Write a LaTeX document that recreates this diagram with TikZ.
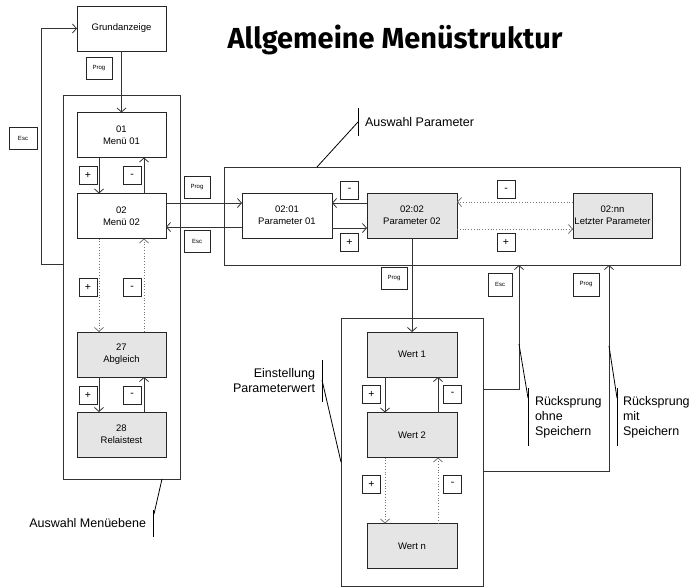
\documentclass[tikz,border=0pt]{standalone}
\usepackage{fontspec}
\setmainfont{Liberation Sans}
\newfontfamily\titlefont{Fira Sans}
\usetikzlibrary{arrows.meta}
\begin{document}
\begin{tikzpicture}[x=1pt,y=-1pt,
  every node/.style={inner sep=0pt, outer sep=0pt},
  frame/.style={draw=black!80, line width=0.8pt},
  menubox/.style={draw=black!85, line width=0.8pt, minimum width=89pt, minimum height=45pt, align=center, font=\fontsize{9.5}{12}\selectfont},
  graybox/.style={menubox, fill=black!10},
  keybox/.style={draw=black!85, line width=0.7pt, minimum width=26pt, minimum height=22pt, font=\fontsize{6}{7}\selectfont},
  pmbox/.style={draw=black!85, line width=0.7pt, minimum width=18pt, minimum height=18pt, font=\fontsize{10.5}{12}\selectfont},
  arr/.style={draw=black!80, line width=0.8pt, -{Straight Barb[length=4pt,width=9pt]}},
  darr/.style={arr, draw=black!55, dotted},
  note/.style={font=\fontsize{12.5}{15}\selectfont},
  marker/.style={draw=black, line width=0.8pt}
]
\useasboundingbox (0,0) rectangle (694,587);

% title
\node[font=\titlefont\bfseries\fontsize{29}{31}\selectfont, anchor=base] (title) at (395,48) {Allgemeine Menüstruktur};

% frames
\node[frame, minimum width=117pt, minimum height=384pt] (mf) at (121.5,287) {};
\node[frame, minimum width=456pt, minimum height=98pt] (pf) at (452,216) {};
\node[frame, minimum width=142pt, minimum height=268pt] (wf) at (412,452) {};

% menu column
\node[menubox] (g) at (121.5,28.5) {Grundanzeige};
\node[keybox] (kp1) at (99,68) {Prog};
\node[menubox] (m01) at (121.5,135) {01\\Menü 01};
\node[menubox] (m02) at (121.5,216) {02\\Menü 02};
\node[graybox] (m27) at (121.5,354.5) {27\\Abgleich};
\node[graybox] (m28) at (121.5,434.5) {28\\Relaistest};
\node[pmbox] (pl1) at (88,175.5) {+};
\node[pmbox] (mi1) at (132,175.5) {-};
\node[pmbox] (pl2) at (88,287.5) {+};
\node[pmbox] (mi2) at (132,287.5) {-};
\node[pmbox] (pl3) at (88,395) {+};
\node[pmbox] (mi3) at (132,395) {-};
\node[keybox, minimum width=28pt] (ke1) at (23,138) {Esc};

\draw[arr] (g.south) -- (m01.north);
\draw[arr] ([xshift=-22.5pt]m01.south) -- ([xshift=-22.5pt]m02.north);
\draw[arr] ([xshift=22.5pt]m02.north) -- ([xshift=22.5pt]m01.south);
\draw[darr] ([xshift=-22.5pt]m02.south) -- ([xshift=-22.5pt]m27.north);
\draw[darr] ([xshift=22.5pt]m27.north) -- ([xshift=22.5pt]m02.south);
\draw[arr] ([xshift=-22.5pt]m27.south) -- ([xshift=-22.5pt]m28.north);
\draw[arr] ([xshift=22.5pt]m28.north) -- ([xshift=22.5pt]m27.south);
\draw[arr] ([yshift=23pt]mf.west) -- ++(-22,0) |- (g.west);

% parameter row
\node[menubox, minimum width=90pt] (p01) at (287,215.5) {02:01\\Parameter 01};
\node[graybox, minimum width=90pt] (p02) at (412,215.5) {02:02\\Parameter 02};
\node[graybox, minimum width=79pt] (pnn) at (612.5,215.5) {02:nn\\Letzter Parameter};
\node[keybox] (kp2) at (197,187.5) {Prog};
\node[keybox] (ke2) at (197,241.5) {Esc};
\node[pmbox] (mi4) at (349.5,190) {-};
\node[pmbox] (pl4) at (349.5,242.5) {+};
\node[pmbox] (mi5) at (506,189.5) {-};
\node[pmbox] (pl5) at (506,242) {+};

\coordinate (a1) at ([yshift=13pt]m02.east);
\coordinate (a2) at ([yshift=-11pt]m02.east);
\draw[arr] (a1) -- (a1 -| p01.west);
\draw[arr] (a2 -| p01.west) -- (a2);
\draw[arr] ([yshift=12.5pt]p02.west) -- ([yshift=12.5pt]p01.east);
\draw[arr] ([yshift=-12.5pt]p01.east) -- ([yshift=-12.5pt]p02.west);
\draw[darr] ([yshift=13.5pt]pnn.west) -- ([yshift=13.5pt]p02.east);
\draw[darr] ([yshift=-13.5pt]p02.east) -- ([yshift=-13.5pt]pnn.west);

% value column
\node[keybox] (kp3) at (394,278) {Prog};
\node[graybox, minimum width=90pt] (w1) at (412,354.5) {Wert 1};
\node[graybox, minimum width=90pt] (w2) at (412,435) {Wert 2};
\node[graybox, minimum width=90pt] (wn) at (412,546) {Wert n};
\node[pmbox] (pl6) at (371.5,394) {+};
\node[pmbox] (mi6) at (452.5,394) {-};
\node[pmbox] (pl7) at (371.5,484) {+};
\node[pmbox] (mi7) at (452.5,484) {-};
\node[keybox, minimum width=24pt, minimum height=23pt] (ke3) at (500,284.5) {Esc};
\node[keybox, minimum height=23pt] (kp4) at (586,284.5) {Prog};

\draw[arr] (p02.south) -- (w1.north);
\draw[arr] ([xshift=-27pt]w1.south) -- ([xshift=-27pt]w2.north);
\draw[arr] ([xshift=26pt]w2.north) -- ([xshift=26pt]w1.south);
\draw[darr] ([xshift=-27pt]w2.south) -- ([xshift=-27pt]wn.north);
\draw[darr] ([xshift=26pt]wn.north) -- ([xshift=26pt]w2.south);
\draw[arr] ([yshift=63pt]wf.east) -| ([xshift=67pt]pf.south);
\draw[arr] ([yshift=-19pt]wf.east) -| ([xshift=157pt]pf.south);

% annotations
\node[note, anchor=east] (nmenu) at (146,523) {Auswahl Menüebene};
\draw[marker] (153,510) -- (153,537);
\draw[marker] ([xshift=40.5pt]mf.south) -- (154,514);

\node[note, anchor=west] (npar) at (365,122) {Auswahl Parameter};
\draw[marker] (358,108) -- (358,136);
\draw[marker] ([xshift=-135pt]pf.north) -- (358,122);

\node[note, align=right, anchor=east] (nein) at (315,381) {Einstellung\\Parameterwert};
\draw[marker] (322,360) -- (322,402);
\draw[marker] (322,380) -- ([yshift=-10pt]wf.west);

\node[note, align=left, anchor=west] (nohne) at (535,417) {Rücksprung\\ohne\\Speichern};
\draw[marker] (528,388) -- (528,446);
\draw[marker] (519,344) -- (528,398);

\node[note, align=left, anchor=west] (nmit) at (623,417) {Rücksprung\\mit\\Speichern};
\draw[marker] (617,388) -- (617,446);
\draw[marker] (609,346) -- (617,398);
\end{tikzpicture}
\end{document}
